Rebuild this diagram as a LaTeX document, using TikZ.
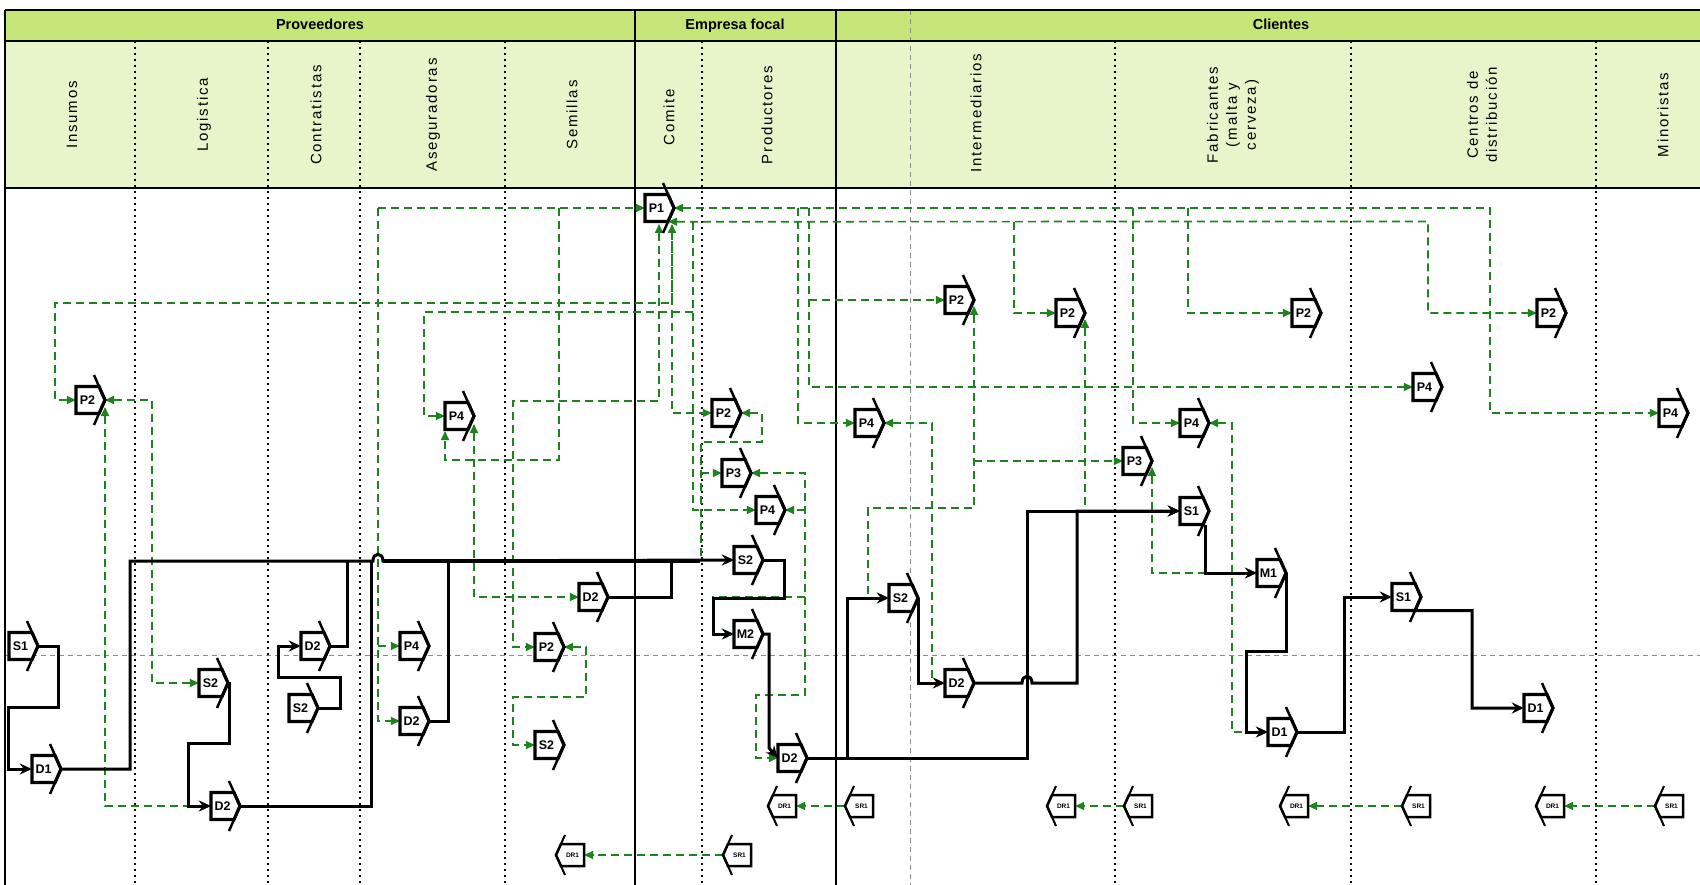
\documentclass[tikz,border=0pt]{standalone}
\usepackage{fontspec}
\setmainfont{Liberation Sans}
\newfontfamily\hdrfont[LetterSpace=12]{Liberation Sans}
\usetikzlibrary{arrows.meta,calc}
\definecolor{igreen}{RGB}{30,130,30}
\definecolor{hdrtop}{RGB}{198,230,122}
\definecolor{hdrsub}{RGB}{232,245,203}
\pgfdeclarelayer{back}\pgfdeclarelayer{mid}\pgfsetlayers{back,mid,main}
\tikzset{
 shapeline/.style={draw=black, fill=white, line width=3.2pt, line join=miter},
 armline/.style={draw=black, line width=2.5pt, line join=miter},
 lbl/.style={font=\fontsize{12.5}{12.5}\selectfont\bfseries, minimum width=23pt, minimum height=27pt, inner sep=0pt},
 lbls/.style={font=\fontsize{6.5}{6.5}\selectfont\bfseries, minimum width=23pt, minimum height=22pt, inner sep=0pt},
 matn/.style={draw=black, line width=3pt, line join=miter},
 mat/.style={matn, -{Stealth[length=12pt,width=11pt,inset=4pt]}},
 info/.style={draw=igreen, line width=1.7pt, dash pattern=on 8pt off 5pt},
 ia/.style={info, -{Triangle[length=9pt,width=8pt]}},
 iab/.style={info, {Triangle[length=9pt,width=8pt]}-{Triangle[length=9pt,width=8pt]}},
 toplbl/.style={font=\fontsize{14.5}{16}\selectfont\bfseries, anchor=base},
 collbl/.style={font=\hdrfont\fontsize{15}{19}\selectfont, rotate=90, align=center},
 coldiv/.style={draw=black, line width=1.4pt, dash pattern=on 2pt off 4pt},
 graydiv/.style={draw=black!45, line width=1pt, dash pattern=on 5pt off 4pt},
}
\newcommand\SCOR[4]{%
  \filldraw[shapeline] (#2,#3-13.5) -- (#2+23,#3-13.5) -- (#2+29,#3) -- (#2+23,#3+13.5) -- (#2,#3+13.5) -- cycle;
  \draw[armline] (#2+18,#3-25) -- (#2+29,#3) -- (#2+18,#3+25);
  \node[lbl] (#1) at (#2+11.5,#3) {#4};
  \coordinate (#1t) at (#2+29,#3);
}
\newcommand\SCORR[4]{%
  \filldraw[shapeline, line width=2.5pt] (#2,#3-11) -- (#2-23,#3-11) -- (#2-28,#3) -- (#2-23,#3+11) -- (#2,#3+11) -- cycle;
  \draw[armline, line width=2pt] (#2-19,#3-20) -- (#2-28,#3) -- (#2-19,#3+20);
  \node[lbls] (#1) at (#2-11.5,#3) {#4};
  \coordinate (#1t) at (#2-28,#3);
}
\begin{document}
\begin{tikzpicture}[x=1pt,y=-1pt]
\useasboundingbox (0,0) rectangle (1700,885);
\begin{pgfonlayer}{back}
\fill[white] (0,0) rectangle (1700,885);
\fill[hdrtop] (5,10) rectangle (1700,41);
\fill[hdrsub] (5,41) rectangle (1700,188);
\foreach \x in {135,268,360,505,702,1115,1351,1596} \draw[coldiv] (\x,41) -- (\x,885);
\draw[graydiv] (910,10) -- (910,885);
\draw[graydiv] (5,655) -- (1700,655);
\draw[line width=1.5pt] (635,10) -- (635,885);
\draw[line width=1.5pt] (836,10) -- (836,885);
\draw[line width=2.4pt] (5,10) -- (1700,10);
\draw[line width=1.8pt] (5,41) -- (1700,41);
\draw[line width=2.4pt] (5,188) -- (1700,188);
\draw[line width=2.4pt] (5,10) -- (5,885);
\end{pgfonlayer}
% header labels
\node[toplbl] (hprov) at (320,30) {Proveedores};
\node[toplbl] (hemp) at (735,30) {Empresa focal};
\node[toplbl] (hcli) at (1281,30) {Clientes};
\node[collbl] (cins) at (72,115) {Insumos};
\node[collbl] (clog) at (204,115) {Logistica};
\node[collbl] (ccon) at (316,115) {Contratistas};
\node[collbl] (case) at (433,115) {Aseguradoras};
\node[collbl] (csem) at (572,115) {Semillas};
\node[collbl] (ccom) at (669,117) {Comite};
\node[collbl] (cpro) at (767,115) {Productores};
\node[collbl] (cint) at (976,113) {Intermediarios};
\node[collbl] (cfab) at (1233,115) {Fabricantes\\(malta y\\cerveza)};
\node[collbl] (ccen) at (1482,115) {Centros de\\distribución};
\node[collbl] (cmin) at (1663,115) {Minoristas};
% process elements
\SCOR{p2i}{76}{400}{P2}
\SCOR{s1i}{9}{646}{S1}
\SCOR{d1i}{32}{769}{D1}
\SCOR{s2l}{199}{683}{S2}
\SCOR{d2l}{211}{806}{D2}
\SCOR{d2c}{301}{646}{D2}
\SCOR{s2c}{289}{708}{S2}
\SCOR{p4a}{445}{416}{P4}
\SCOR{p4b}{400}{646}{P4}
\SCOR{d2a}{400}{721}{D2}
\SCOR{p2s}{535}{647}{P2}
\SCOR{s2s}{535}{745}{S2}
\SCOR{d2s}{579}{597}{D2}
\SCOR{p1}{645}{208}{P1}
\SCOR{p2p}{712}{413}{P2}
\SCOR{p3p}{722}{473}{P3}
\SCOR{p4p}{756}{510}{P4}
\SCOR{s2p}{734}{560}{S2}
\SCOR{m2}{734}{634}{M2}
\SCOR{d2p}{778}{758}{D2}
\SCOR{p4m}{855}{423}{P4}
\SCOR{p2m}{945}{300}{P2}
\SCOR{p2n}{1056}{313}{P2}
\SCOR{s2m}{889}{598}{S2}
\SCOR{d2m}{945}{683}{D2}
\SCOR{p3f}{1123}{461}{P3}
\SCOR{p4f}{1180}{423}{P4}
\SCOR{s1f}{1180}{511}{S1}
\SCOR{m1}{1257}{573}{M1}
\SCOR{d1f}{1268}{732}{D1}
\SCOR{p2f}{1292}{313}{P2}
\SCOR{p4c}{1413}{387}{P4}
\SCOR{s1c}{1392}{597}{S1}
\SCOR{d1c}{1524}{708}{D1}
\SCOR{p2c}{1537}{313}{P2}
\SCOR{p4n}{1659}{413}{P4}
\SCORR{dr1a}{584}{855}{DR1}
\SCORR{sr1a}{751}{855}{SR1}
\SCORR{dr1b}{796}{806}{DR1}
\SCORR{sr1b}{873}{806}{SR1}
\SCORR{dr1c}{1075}{806}{DR1}
\SCORR{sr1c}{1152}{806}{SR1}
\SCORR{dr1d}{1308}{806}{DR1}
\SCORR{sr1d}{1430}{806}{SR1}
\SCORR{dr1e}{1564}{806}{DR1}
\SCORR{sr1e}{1683}{806}{SR1}
\begin{pgfonlayer}{mid}
% information flows
\draw[ia] (378,208) -- (p1.west);
\draw[ia] (378,208) -- (378,721) -- (d2a.west);
\draw[ia] (378,646) -- (p4b.west);
\draw[iab] (p1t) -- (1490,208) -- (1490,413) -- (p4n.west);
\draw[iab] (p1.south east) -- (1428,221.5) -- (1428,313) -- (p2c.west);
\draw[ia] (693,312) -- (424,312) -- (424,416) -- (p4a.west);
\draw[ia] (693,222) -- (693,510) -- (p4p.west);
\draw[iab] (p2i.west) -- (55,400) -- (55,303) -- (672,303) -- (672,224);
\draw[ia] (672,232) -- (672,413) -- (p2p.west);
\draw[iab] (659,224) -- (659,401) -- (513,401) -- (513,647) -- (p2s.west);
\draw[iab] (p2st) -- (586,647) -- (586,697) -- (513,697) -- (513,745) -- (s2s.west);
\draw[ia] (559,208) -- (559,460) -- (445,460) -- (445,431);
\draw[iab] (474,424) -- (474,597) -- (d2s.west);
\draw[iab] (105,407) -- (105,806) -- (d2l.west);
\draw[iab] (p2it) -- (152,400) -- (152,683) -- (s2l.west);
\draw[iab] (p2pt) -- (762,413) -- (762,442) -- (701,442) -- (701,560) -- (s2p.west);
\draw[ia] (701,473) -- (p3p.west);
\draw[iab] (p3pt) -- (805,473) -- (805,695) -- (756,695) -- (756,758) -- (d2p.west);
\draw[ia] (805,510) -- (p4pt);
\draw[ia] (805,597) -- (713,597) -- (713,634) -- (m2.west);
\draw[ia] (798,208) -- (798,423) -- (p4m.west);
\draw[ia] (809,208) -- (809,387) -- (p4c.west);
\draw[ia] (809,300) -- (p2m.west);
\draw[iab] (p4mt) -- (932,423) -- (932,683) -- (d2m.west);
\draw[iab] (974,306) -- (974,508) -- (868,508) -- (868,598) -- (s2m.west);
\draw[ia] (974,461) -- (p3f.west);
\draw[ia] (1014,222) -- (1014,313) -- (p2n.west);
\draw[iab] (1085,319) -- (1085,511) -- (s1f.west);
\draw[ia] (1133,208) -- (1133,423) -- (p4f.west);
\draw[ia] (1188,208) -- (1188,313) -- (p2f.west);
\draw[iab] (p4ft) -- (1232,423) -- (1232,732) -- (d1f.west);
\draw[iab] (1152,467) -- (1152,573) -- (m1.west);
\draw[ia] (sr1at) -- (dr1a.east);
\draw[ia] (sr1bt) -- (dr1b.east);
\draw[ia] (sr1ct) -- (dr1c.east);
\draw[ia] (sr1dt) -- (dr1d.east);
\draw[ia] (sr1et) -- (dr1e.east);
% material flows
\draw[mat] (s1it) -- (58,646) -- (58,707) -- (8,707) -- (8,769) -- (d1i.west);
\draw[mat] (d1it) -- (130,769) -- (130,561) -- (373,561) .. controls (373,552) and (383,552) .. (383,561) -- (s2p.west);
\draw[matn, line width=4.5pt] (383,561) -- (700,561);
\draw[mat] (s2lt) -- (229,683) -- (229,743) -- (188,743) -- (188,806) -- (d2l.west);
\draw[mat] (s2ct) -- (340,708) -- (340,677) -- (278,677) -- (278,646) -- (d2c.west);
\draw[matn] (d2ct) -- (347,646) -- (347,561);
\draw[matn] (d2lt) -- (371,806) -- (371,561);
\draw[matn] (d2at) -- (448,721) -- (448,561);
\draw[matn] (d2st) -- (671,597) -- (671,561);
\draw[mat] (s2pt) -- (784,560) -- (784,598) -- (713,598) -- (713,634) -- (m2.west);
\draw[mat] (m2t) -- (769,634) -- (769,748) -- (d2p.west);
\draw[mat] (d2pt) -- (1027,758) -- (1027,511) -- (s1f.west);
\draw[mat] (847,758) -- (847,598) -- (s2m.west);
\draw[mat] (s2mt) -- (918,683) -- (d2m.west);
\draw[mat] (d2mt) -- (1022,683) .. controls (1022,674) and (1032,674) .. (1032,683) -- (1077,683) -- (1077,511) -- (s1f.west);
\draw[mat] ($(s1f.south east)+(2,0)$) |- (m1.west);
\draw[mat] (m1t) -- (1286,651) -- (1246,651) -- (1246,732) -- (d1f.west);
\draw[mat] (d1ft) -- (1344,732) -- (1344,597) -- (s1c.west);
\draw[mat] (s1c.south east) -- (1472,610.5) -- (1472,708) -- (d1c.west);
\end{pgfonlayer}
\end{tikzpicture}
\end{document}
